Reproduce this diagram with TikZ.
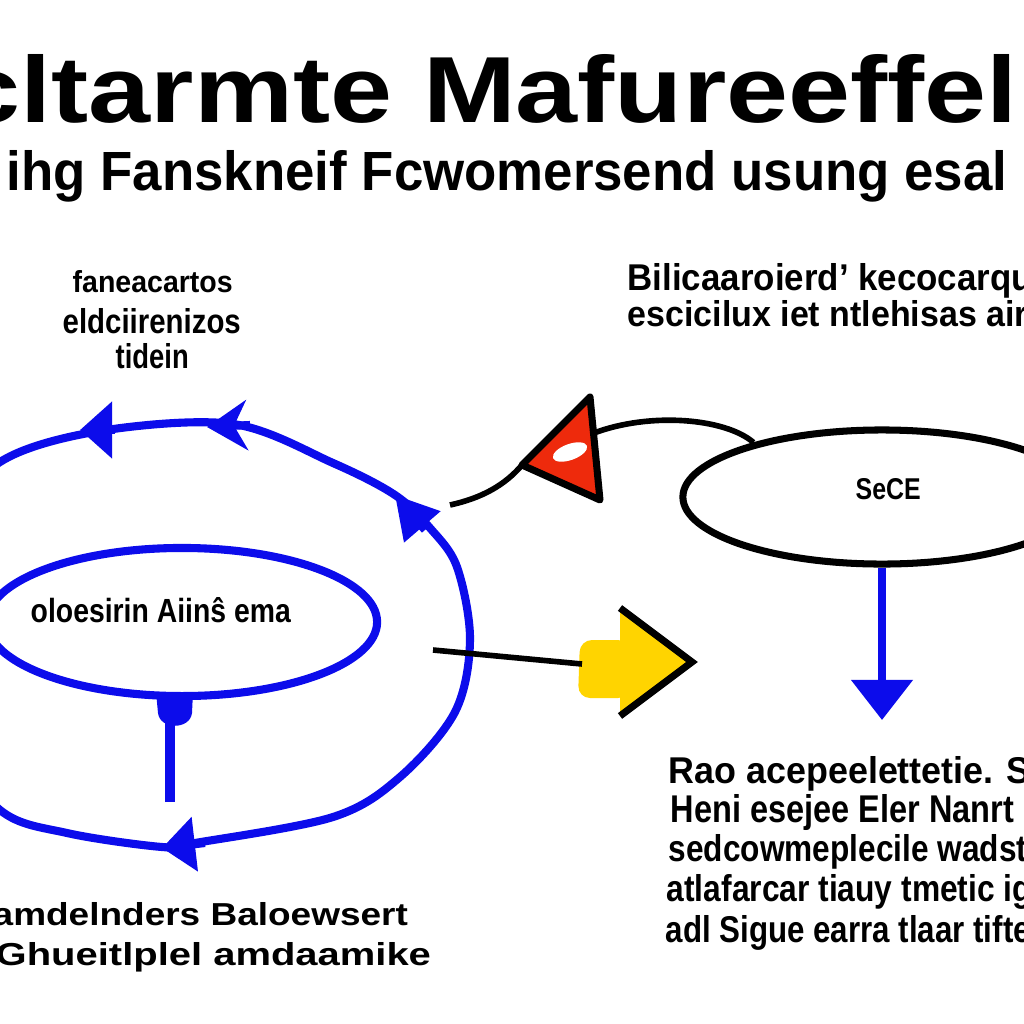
\documentclass[tikz,border=0pt]{standalone}
\usepackage{fontspec}
\setmainfont{Liberation Sans}
\usepackage{graphicx}
\usetikzlibrary{arrows.meta,shapes.geometric}
\definecolor{diagblue}{RGB}{12,12,235}
\definecolor{diagred}{RGB}{238,42,12}
\definecolor{diagyellow}{RGB}{255,212,0}

\begin{document}
\begin{tikzpicture}[x=0.01cm,y=-0.01cm,
    blueline/.style={draw=diagblue,line width=2.3pt},
    blackline/.style={draw=black,line width=1.6pt},
    txt/.style={inner sep=0pt,anchor=base west,font=\bfseries}]
    \useasboundingbox (0,0) rectangle (1024,1024);
    \clip (0,0) rectangle (1024,1024);
    \fill[white] (0,0) rectangle (1024,1024);

    % heading
    \node[txt] (title)    at (-42,123) {\resizebox{10.58cm}{0.68cm}{cltarmte Mafureeffel}};
    \node[txt] (subtitle) at (6,190)   {\resizebox{10.0cm}{0.40cm}{ihg Fanskneif Fcwomersend usung esal}};

    % labels
    \node[txt] (tl1) at (72,292)  {\resizebox{1.6cm}{0.22cm}{faneacartos}};
    \node[txt] (tl2) at (62,333)  {\resizebox{1.78cm}{0.25cm}{eldciirenizos}};
    \node[txt] (tl3) at (115,368) {\resizebox{0.73cm}{0.25cm}{tidein}};

    \node[txt] (tr1) at (627,290) {\resizebox{4.05cm}{0.27cm}{Bilicaaroierd' kecocarqu}};
    \node[txt] (tr2) at (627,326) {\resizebox{4.0cm}{0.26cm}{escicilux iet ntlehisas air}};

    \node[txt] (br1) at (668,783) {\resizebox{3.62cm}{0.27cm}{Rao acepeelettetie. S}};
    \node[txt] (br2) at (670,822) {\resizebox{3.43cm}{0.28cm}{Heni esejee Eler Nanrt}};
    \node[txt] (br3) at (668,861) {\resizebox{3.67cm}{0.27cm}{sedcowmeplecile wadsti}};
    \node[txt] (br4) at (666,901) {\resizebox{3.74cm}{0.27cm}{atlafarcar tiauy tmetic igj}};
    \node[txt] (br5) at (665,942) {\resizebox{3.65cm}{0.27cm}{adl Sigue earra tlaar tifte}};

    \node[txt] (bl1) at (-8,925) {\resizebox{4.15cm}{0.23cm}{amdelnders Baloewsert}};
    \node[txt] (bl2) at (-5,965) {\resizebox{4.35cm}{0.23cm}{Ghueitlplel amdaamike}};

    % blue loop
    \draw[blueline] plot[smooth cycle, tension=0.55] coordinates {(0,462) (100,431) (233,424) (333,463)
      (395,495) (430,528) (457,567) (470,640) (455,712) (400,777) (333,817) (195,843) (162,847)
      (67,833) (0,810) (-60,730) (-75,640) (-55,530)};
    \draw[blueline,-{Triangle[length=3.2mm,width=5.5mm]}] (115,430) -- (80,430);
    \draw[blueline,-{Stealth[length=4mm,width=5mm,inset=1.3mm]}] (250,425) -- (207,427);
    \draw[blueline,-{Triangle[length=4.2mm,width=4.6mm]}] (425,530) -- (395,495);
    \draw[blueline,-{Triangle[length=3.3mm,width=5.3mm]}] (205,843) -- (162,848);

    \node[ellipse,blueline,minimum width=3.9cm,minimum height=1.48cm,inner sep=0pt] (inner) at (182,622) {};
    \node[txt] (innertext) at (30,622) {\resizebox{2.6cm}{0.25cm}{oloesirin Aiinŝ ema}};

    \coordinate (stembase) at (170,802);
    \draw[blueline,line width=2.8pt] (stembase) -- (stembase |- inner.south);
    \fill[diagblue] (156,692) -- (193,692) -- (192,713) .. controls (190,730) and (160,730) .. (158,713) -- cycle;

    % red marker
    \coordinate (tritop)   at (590,397);
    \coordinate (trileft)  at (522,465);
    \coordinate (tribot)   at (600,500);
    \coordinate (triright) at (594,433);
    \coordinate (loopne)   at (450,505);
    \filldraw[fill=diagred,draw=black,line width=2pt,line join=round] (tritop) -- (trileft) -- (tribot) -- cycle;
    \fill[white,rotate around={20:(570,452)}] (570,452) ellipse [x radius=0.18cm, y radius=0.08cm];
    \draw[blackline] (loopne) .. controls (482,498) and (505,485) .. (trileft);

    % right ellipse
    \node[ellipse,draw,line width=2pt,minimum width=3.98cm,minimum height=1.34cm,inner sep=0pt] (sece) at (882,497) {};
    \node[txt] (secetext) at (855,499) {\resizebox{0.65cm}{0.21cm}{SeCE}};
    \draw[blackline] (triright) .. controls (650,412) and (725,418) .. (sece.157);

    \coordinate (drop) at (882,720);
    \draw[blueline,line width=2.2pt,-{Triangle[length=4mm,width=6mm]}] (sece.south) -- (drop);

    % yellow arrow
    \coordinate (tail)    at (433,650);
    \coordinate (yarrow)  at (582,664);
    \fill[diagyellow,rounded corners=0.12cm] (630,640) -- (580,640) -- (578,698) -- (630,698) -- cycle;
    \fill[diagyellow] (620,608) -- (692,662) -- (620,716) -- cycle;
    \draw[blackline,line width=2pt] (620,608) -- (692,662) -- (620,716);
    \draw[blackline] (tail) -- (yarrow);
\end{tikzpicture}
\end{document}
